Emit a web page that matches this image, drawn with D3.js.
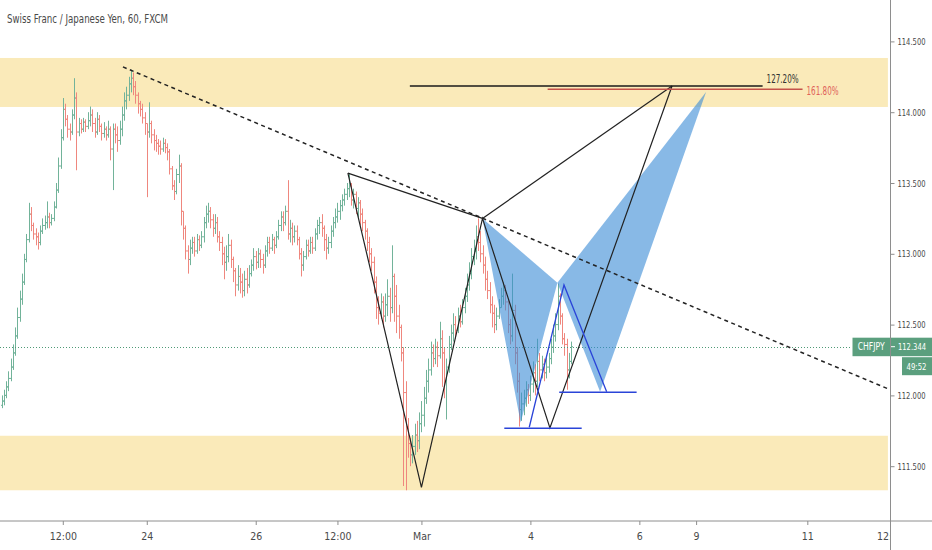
<!DOCTYPE html>
<html><head><meta charset="utf-8">
<script src="https://cdn.jsdelivr.net/npm/d3@7"></script>
<style>html,body{margin:0;padding:0;background:#fff;overflow:hidden}</style>
</head><body>
<svg id="c" width="932" height="550"></svg>
<script>
// ---- DATA (hourly bars, CHFJPY) ----
const firstOpen = 111.93;
const closes = [
111.96,112.00,112.06,112.12,112.20,112.30,112.42,112.55,112.68,112.80,
112.96,113.10,113.28,113.20,113.14,113.12,113.08,113.16,113.20,113.22,
113.26,113.22,113.25,113.33,113.45,113.62,113.82,114.02,113.95,113.88,
113.86,113.98,114.10,113.86,113.92,113.88,113.93,113.90,113.94,113.98,
113.92,113.86,113.95,113.90,113.85,113.88,113.84,113.88,113.74,113.88,
113.84,113.80,113.88,113.98,114.08,114.12,114.20,114.24,114.18,114.12,
114.06,114.02,113.96,113.92,113.86,113.92,113.84,113.80,113.78,113.76,
113.74,113.78,113.75,113.72,113.60,113.48,113.44,113.56,113.62,113.30,
113.18,113.02,112.96,113.04,113.08,113.02,113.10,113.06,113.12,113.22,
113.28,113.30,113.24,113.18,113.22,113.12,113.08,113.00,112.94,112.98,
113.06,112.96,112.88,112.78,112.84,112.80,112.74,112.82,112.78,112.86,
112.92,112.98,112.94,113.00,112.96,112.92,113.02,113.08,113.04,113.10,
113.06,113.12,113.20,113.26,113.22,113.30,113.14,113.18,113.12,113.16,
113.10,113.00,112.92,112.98,113.06,113.02,113.08,113.04,113.14,113.20,
113.22,113.18,113.10,113.04,113.08,113.16,113.22,113.26,113.30,113.34,
113.38,113.42,113.46,113.48,113.38,113.42,113.32,113.36,113.28,113.22,
113.16,113.08,113.00,112.94,112.80,112.62,112.58,112.66,112.56,112.64,
112.70,112.62,112.84,112.70,112.56,112.48,112.30,112.02,111.78,111.66,
111.58,111.64,111.72,111.68,111.80,111.86,111.98,112.10,112.18,112.30,
112.26,112.34,112.28,112.40,112.30,112.10,112.20,112.36,112.44,112.50,
112.46,112.56,112.52,112.62,112.70,112.78,112.86,112.98,113.02,113.12,
113.08,113.00,112.92,112.82,112.74,112.64,112.58,112.50,112.56,112.62,
112.70,112.74,112.66,112.50,112.42,112.60,112.30,112.10,111.90,111.94,
111.98,112.04,112.00,112.08,112.16,112.10,112.24,112.18,112.22,112.16,
112.20,112.26,112.34,112.42,112.50,112.70,112.56,112.40,112.36,112.18,112.24,112.344];
const highs = [
112.00,112.04,112.10,112.17,112.26,112.36,112.48,112.62,112.74,112.86,
113.00,113.14,113.36,113.33,113.22,113.18,113.15,113.20,113.25,113.27,
113.37,113.29,113.28,113.37,113.50,113.68,113.88,114.10,114.06,113.98,
113.92,114.02,114.24,114.14,113.96,113.95,113.96,113.95,114.00,114.04,
114.02,113.96,114.00,113.98,113.92,113.93,113.90,113.94,113.90,113.92,
113.92,113.90,113.94,114.04,114.14,114.18,114.25,114.30,114.28,114.22,
114.14,114.08,114.06,114.00,113.90,114.07,113.94,113.88,113.84,113.81,
113.80,113.82,113.81,113.78,113.74,113.62,113.52,113.60,113.70,113.64,
113.30,113.20,113.06,113.10,113.12,113.12,113.14,113.13,113.16,113.26,
113.34,113.36,113.33,113.28,113.28,113.26,113.16,113.12,113.05,113.06,
113.14,113.10,112.98,112.90,112.92,112.90,112.86,112.88,112.90,112.92,
112.96,113.04,113.02,113.04,113.03,113.00,113.06,113.12,113.12,113.14,
113.12,113.16,113.24,113.30,113.30,113.34,113.52,113.24,113.22,113.20,
113.20,113.12,113.04,113.02,113.10,113.10,113.12,113.12,113.18,113.24,
113.26,113.28,113.20,113.14,113.12,113.20,113.26,113.32,113.36,113.38,
113.42,113.46,113.50,113.57,113.50,113.46,113.44,113.40,113.38,113.32,
113.24,113.18,113.12,113.04,112.98,112.84,112.70,112.72,112.70,112.72,
112.82,112.76,113.06,112.86,112.78,112.64,112.50,112.34,112.10,111.84,
111.70,111.72,111.80,111.82,111.88,111.96,112.06,112.18,112.26,112.38,
112.36,112.40,112.38,112.52,112.46,112.34,112.26,112.42,112.50,112.58,
112.56,112.62,112.64,112.68,112.76,112.86,112.94,113.04,113.10,113.20,
113.25,113.16,113.06,112.98,112.88,112.80,112.70,112.64,112.62,112.68,
112.76,112.80,112.78,112.68,112.54,112.86,112.64,112.34,112.16,112.02,
112.04,112.10,112.08,112.14,112.24,112.22,112.40,112.30,112.28,112.26,
112.28,112.30,112.40,112.50,112.58,112.79,112.72,112.58,112.44,112.40,112.30,112.38];
const lows = [
111.91,111.93,111.98,112.03,112.10,112.18,112.28,112.40,112.52,112.64,
112.78,112.94,113.08,113.16,113.10,113.06,113.03,113.06,113.14,113.17,
113.18,113.18,113.20,113.23,113.32,113.43,113.60,113.80,113.90,113.82,
113.80,113.84,113.95,113.59,113.83,113.85,113.86,113.86,113.88,113.90,
113.86,113.82,113.84,113.86,113.80,113.82,113.80,113.82,113.66,113.45,
113.78,113.72,113.77,113.83,113.94,114.02,114.08,114.14,114.12,114.06,
113.99,113.97,113.92,113.84,113.40,113.82,113.78,113.73,113.72,113.70,
113.70,113.72,113.71,113.66,113.56,113.45,113.38,113.42,113.50,113.20,
113.10,112.96,112.86,112.92,113.00,112.98,113.00,113.02,113.04,113.08,
113.18,113.22,113.18,113.12,113.14,113.08,113.02,112.92,112.82,112.88,
112.94,112.90,112.80,112.70,112.74,112.72,112.69,112.70,112.72,112.76,
112.84,112.88,112.89,112.90,112.90,112.86,112.90,112.98,113.00,113.02,
113.00,113.04,113.10,113.16,113.16,113.20,113.10,113.08,113.06,113.08,
113.06,112.96,112.84,112.88,112.96,112.98,113.00,113.00,113.02,113.10,
113.14,113.12,113.02,112.96,113.00,113.04,113.12,113.18,113.22,113.24,
113.30,113.34,113.38,113.40,113.34,113.32,113.28,113.26,113.20,113.16,
113.10,113.02,112.94,112.88,112.72,112.54,112.50,112.54,112.48,112.52,
112.56,112.52,112.58,112.52,112.44,112.40,112.24,111.36,111.33,111.56,
111.50,111.52,111.58,111.60,111.62,111.74,111.78,111.94,112.02,112.14,
112.20,112.22,112.20,112.26,112.06,111.98,111.83,112.16,112.32,112.38,
112.40,112.44,112.48,112.50,112.58,112.66,112.74,112.82,112.92,112.96,
113.02,112.94,112.86,112.74,112.68,112.58,112.48,112.44,112.46,112.54,
112.62,112.64,112.60,112.44,112.36,112.38,112.22,112.02,111.78,111.82,
111.86,111.92,111.94,111.96,112.02,112.00,112.06,112.10,112.12,112.10,
112.12,112.16,112.22,112.30,112.38,112.46,112.50,112.36,112.28,112.04,112.12,112.22];

const priceTicks = [114.5, 114.0, 113.5, 113.0, 112.5, 112.0, 111.5];
const timeTickBars = [27, 64, 112, 148, 185, 233, 281, 306, 355, 391.5];
const timeTickLabels = ["12:00", "24", "26", "12:00", "Mar", "4", "6", "9", "11", "12:00"];
const zones = [{top: 114.383, bottom: 114.037}, {top: 111.715, bottom: 111.33}];
const trendline = [[53.5, 114.32], [391.5, 112.04]];
const xabcdPath = [[152.6, 113.57], [185.0, 111.35], [211.9, 113.25], [241.6, 111.77], [295.4, 114.185]];
const xabcdLegs = [[[152.6, 113.57], [211.9, 113.25]], [[211.9, 113.25], [295.4, 114.185]]];
const blueTriangles = [
  [[211.9, 113.25], [228.7, 111.807], [244.9, 112.796]],
  [[244.9, 112.796], [263.7, 112.026], [310.4, 114.143]]
];
const blueLine = [[232.5, 111.775], [247.8, 112.78], [266.6, 112.026]];
const blueLevels = [{from: 221.5, to: 255.6, price: 111.768}, {from: 245.7, to: 279.8, price: 112.022}];
const fibLevels = [
  {from: 179.9, to: 335.3, price: 114.185, label: "127.20%", color: "#1a1a1a", text: "#333"},
  {from: 240.6, to: 352.9, price: 114.162, label: "161.80%", color: "#c4524a", text: "#e0625a"}
];
const symbol = "CHFJPY";
const lastPrice = 112.344;
const countdown = "49:52";
const title = "Swiss Franc / Japanese Yen, 60, FXCM";

// ---- CHART ----
const W = 932, H = 550, axisX = 890.5, axisY = 521;
const FONT = "'Liberation Sans Narrow','DejaVu Sans Condensed','Liberation Sans',Arial,sans-serif";
const svg = d3.select("#c");
const x = d3.scaleLinear().domain([0, 391.6]).range([1.5, 890.4]);
const y = d3.scaleLinear().domain([111.5, 114.5]).range([466.2, 41.4]);

const defs = svg.append("defs");
defs.append("clipPath").attr("id", "plot").append("rect").attr("x", 0).attr("y", 0).attr("width", 890).attr("height", axisY);
defs.append("clipPath").attr("id", "tax").append("rect").attr("x", 0).attr("y", axisY).attr("width", 890).attr("height", H - axisY);

const plot = svg.append("g").attr("clip-path", "url(#plot)");

// zones
plot.selectAll("rect.zone").data(zones).join("rect").attr("class", "zone")
  .attr("x", 0).attr("width", x(390.5))
  .attr("y", d => y(d.top)).attr("height", d => y(d.bottom) - y(d.top))
  .attr("fill", "#faeab9");

// bars
const bars = closes.map((c, i) => {
  const o = i === 0 ? firstOpen : closes[i - 1];
  return {i, o, c, h: Math.max(highs[i], o, c), l: Math.min(lows[i], o, c)};
});
plot.selectAll("path.bar").data(bars).join("path").attr("class", "bar")
  .attr("d", d => {
    const xs = Math.round(x(d.i)) + 0.5;
    return `M${xs},${y(d.h)}V${y(d.l)}M${xs - 1.5},${y(d.o)}H${xs}M${xs},${y(d.c)}H${xs + 1.5}`;
  })
  .attr("fill", "none").attr("stroke-width", 1)
  .attr("stroke", d => d.c >= d.o ? "#72b39a" : "#ef877e");

// last price dotted line
plot.append("line").attr("x1", 0).attr("x2", 852).attr("y1", Math.round(y(lastPrice)) + 0.5).attr("y2", Math.round(y(lastPrice)) + 0.5)
  .attr("stroke", "#4f9a76").attr("stroke-width", 1).attr("stroke-dasharray", "1,2");

// blue harmonic fill
const line = d3.line().x(d => x(d[0])).y(d => y(d[1]));
plot.selectAll("path.tri").data(blueTriangles).join("path").attr("class", "tri")
  .attr("d", d => line(d) + "Z").attr("fill", "rgba(56,138,214,0.6)").attr("stroke", "none");

// trendline
plot.append("path").attr("d", line(trendline)).attr("stroke", "#222").attr("stroke-width", 1.5)
  .attr("stroke-dasharray", "4,3.5").attr("fill", "none");

// black XABCD
plot.append("path").attr("d", line(xabcdPath)).attr("stroke", "#222").attr("stroke-width", 1.2).attr("fill", "none");
plot.selectAll("path.leg").data(xabcdLegs).join("path").attr("class", "leg")
  .attr("d", d => line(d)).attr("stroke", "#222").attr("stroke-width", 1.2).attr("fill", "none");

// blue lines
plot.append("path").attr("d", line(blueLine)).attr("stroke", "#2a44d8").attr("stroke-width", 1.3).attr("fill", "none");
plot.selectAll("line.bl").data(blueLevels).join("line").attr("class", "bl")
  .attr("x1", d => x(d.from)).attr("x2", d => x(d.to)).attr("y1", d => y(d.price)).attr("y2", d => y(d.price))
  .attr("stroke", "#2a44d8").attr("stroke-width", 1.5);

// fib levels
plot.selectAll("line.fib").data(fibLevels).join("line").attr("class", "fib")
  .attr("x1", d => x(d.from)).attr("x2", d => x(d.to)).attr("y1", d => y(d.price)).attr("y2", d => y(d.price))
  .attr("stroke", d => d.color).attr("stroke-width", 1.3);
plot.selectAll("text.fib").data(fibLevels).join("text").attr("class", "fib")
  .attr("x", d => x(d.to) + 4).attr("y", (d, i) => i === 0 ? y(d.price) - 3 : y(d.price) + 6)
  .attr("font-family", FONT).attr("font-size", 11.5).attr("fill", d => d.text)
  .attr("textLength", 32).attr("lengthAdjust", "spacingAndGlyphs").text(d => d.label);

// axes lines
svg.append("line").attr("x1", 0).attr("x2", W).attr("y1", axisY).attr("y2", axisY).attr("stroke", "#8e8e8e").attr("stroke-width", 1);
svg.append("line").attr("x1", axisX).attr("x2", axisX).attr("y1", 0).attr("y2", H).attr("stroke", "#8e8e8e").attr("stroke-width", 1);

// price axis
const yAxis = d3.axisRight(y).tickValues(priceTicks).tickFormat(d3.format(".3f")).tickSize(4).tickPadding(3);
const ya = svg.append("g").attr("transform", `translate(${axisX},0)`).call(yAxis);
ya.select(".domain").remove();
ya.selectAll(".tick line").attr("stroke", "#8e8e8e");
ya.selectAll(".tick text").attr("font-family", FONT).attr("font-size", 9.5).attr("fill", "#4a4a4a")
  .attr("textLength", 28).attr("lengthAdjust", "spacingAndGlyphs");

// time axis (labels clipped behind price scale)
const xaWrap = svg.append("g").attr("clip-path", "url(#tax)");
const xAxis = d3.axisBottom(x).tickValues(timeTickBars).tickFormat((d, i) => timeTickLabels[i]).tickSize(4).tickPadding(8);
const xa = xaWrap.append("g").attr("transform", `translate(0,${axisY})`).call(xAxis);
xa.select(".domain").remove();
xa.selectAll(".tick line").attr("stroke", "#8e8e8e");
xa.selectAll(".tick text").attr("font-family", FONT).attr("font-size", 10.5).attr("fill", "#4a4a4a");

// tags
const ly = y(lastPrice);
svg.append("rect").attr("x", 852.5).attr("y", ly - 9).attr("width", 37.5).attr("height", 18.5).attr("fill", "#5b9f7e");
svg.append("text").attr("x", 871.2).attr("y", ly + 3.8).attr("text-anchor", "middle").attr("font-family", FONT)
  .attr("font-size", 10).attr("fill", "#fff").attr("textLength", 27).attr("lengthAdjust", "spacingAndGlyphs").text(symbol);
svg.append("rect").attr("x", 891).attr("y", ly - 9).attr("width", 41).attr("height", 18.5).attr("fill", "#5b9f7e");
svg.append("line").attr("x1", 891).attr("x2", 895).attr("y1", ly).attr("y2", ly).attr("stroke", "#fff");
svg.append("text").attr("x", 912).attr("y", ly + 3.8).attr("text-anchor", "middle").attr("font-family", FONT)
  .attr("font-size", 9.5).attr("fill", "#fff").attr("textLength", 28).attr("lengthAdjust", "spacingAndGlyphs").text(d3.format(".3f")(lastPrice));
svg.append("rect").attr("x", 902).attr("y", ly + 10.5).attr("width", 30).attr("height", 18).attr("fill", "#5b9f7e");
svg.append("text").attr("x", 916.5).attr("y", ly + 23.5).attr("text-anchor", "middle").attr("font-family", FONT)
  .attr("font-size", 9.5).attr("fill", "#fff").attr("textLength", 20).attr("lengthAdjust", "spacingAndGlyphs").text(countdown);

// title
svg.append("text").attr("x", 7).attr("y", 22.5).attr("font-family", FONT).attr("font-size", 13).attr("fill", "#4a4a4a")
  .attr("textLength", 161).attr("lengthAdjust", "spacingAndGlyphs").text(title);
</script>
</body></html>
